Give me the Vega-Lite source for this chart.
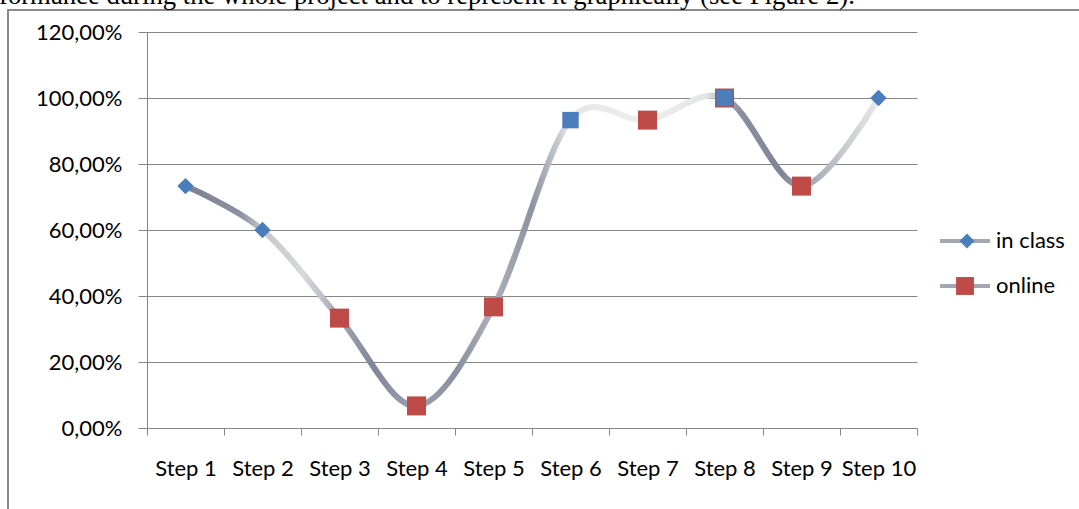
{
  "$schema": "https://vega.github.io/schema/vega-lite/v6.json",
  "width": 1071,
  "height": 499,
  "autosize": {"type": "none"},
  "padding": {"left": 8, "top": 10, "right": 0, "bottom": 0},
  "background": "white",
  "title": {
    "text": "formance during the whole project and to represent it graphically (see Figure 2).",
    "anchor": "start",
    "frame": "group",
    "dx": -9,
    "dy": 26,
    "offset": 5,
    "baseline": "alphabetic",
    "font": "Liberation Serif",
    "fontSize": 26.7,
    "fontWeight": "normal",
    "color": "#000000"
  },
  "config": {
    "locale": {"number": {"decimal": ",", "thousands": ".", "grouping": [3], "currency": ["", " €"]}},
    "view": {"stroke": "#8a8a8a", "strokeWidth": 2, "strokeDash": [1071, 1570, 499]},
    "axis": {
      "labelFont": "Lato",
      "labelFontSize": 22,
      "labelColor": "#000000",
      "domainColor": "#868686",
      "tickColor": "#868686",
      "gridColor": "#868686",
      "domainWidth": 1,
      "tickWidth": 1,
      "gridWidth": 1
    },
    "legend": {
      "orient": "none",
      "title": null,
      "padding": 0,
      "labelFont": "Lato",
      "labelFontSize": 22,
      "labelColor": "#000000"
    }
  },
  "data": {
    "values": [
      {"step": "Step 3", "value": 0.333, "mode": "online", "marker": "square"},
      {"step": "Step 4", "value": 0.067, "mode": "online", "marker": "square"},
      {"step": "Step 5", "value": 0.367, "mode": "online", "marker": "square"},
      {"step": "Step 7", "value": 0.933, "mode": "online", "marker": "square"},
      {"step": "Step 8", "value": 1.0, "mode": "online", "marker": "square"},
      {"step": "Step 9", "value": 0.733, "mode": "online", "marker": "square"},
      {"step": "Step 1", "value": 0.733, "mode": "in class", "marker": "diamond"},
      {"step": "Step 2", "value": 0.6, "mode": "in class", "marker": "diamond"},
      {"step": "Step 6", "value": 0.933, "mode": "in class", "marker": "square"},
      {"step": "Step 8", "value": 1.0, "mode": "in class", "marker": "square"},
      {"step": "Step 10", "value": 1.0, "mode": "in class", "marker": "diamond"}
    ]
  },
  "encoding": {
    "x": {
      "field": "step",
      "type": "nominal",
      "sort": ["Step 1", "Step 2", "Step 3", "Step 4", "Step 5", "Step 6", "Step 7", "Step 8", "Step 9", "Step 10"],
      "scale": {"type": "band", "range": [139, 909], "paddingInner": 0, "paddingOuter": 0},
      "axis": {
        "orient": "bottom",
        "offset": -81,
        "tickBand": "extent",
        "grid": false,
        "tickSize": 7,
        "labelPadding": 23,
        "labelAngle": 0,
        "title": null
      }
    },
    "y": {
      "field": "value",
      "type": "quantitative",
      "scale": {"domain": [0, 1.2], "range": [418, 22], "nice": false},
      "axis": {
        "values": [0, 0.2, 0.4, 0.6, 0.8, 1.0, 1.2],
        "format": ".2%",
        "offset": -139,
        "grid": true,
        "tickSize": 9,
        "labelPadding": 16,
        "title": null
      }
    }
  },
  "layer": [
    {
      "transform": [{"aggregate": [{"op": "max", "field": "value", "as": "value"}], "groupby": ["step"]}],
      "mark": {
        "type": "line",
        "interpolate": "cardinal",
        "strokeWidth": 6,
        "strokeCap": "round",
        "stroke": {
          "gradient": "linear",
          "stops": [
            {"offset": 0.0, "color": "#7a8092"},
            {"offset": 0.08, "color": "#8d92a2"},
            {"offset": 0.111, "color": "#c3c6cc"},
            {"offset": 0.17, "color": "#d8d9dc"},
            {"offset": 0.222, "color": "#a3a8b4"},
            {"offset": 0.27, "color": "#80869a"},
            {"offset": 0.333, "color": "#9ca1ae"},
            {"offset": 0.39, "color": "#8a8fa0"},
            {"offset": 0.444, "color": "#aeb2bc"},
            {"offset": 0.5, "color": "#8d92a2"},
            {"offset": 0.556, "color": "#e6e6e8"},
            {"offset": 0.667, "color": "#eeeeee"},
            {"offset": 0.75, "color": "#e4e5e7"},
            {"offset": 0.8, "color": "#8a8fa0"},
            {"offset": 0.86, "color": "#7f8597"},
            {"offset": 0.889, "color": "#9aa0ad"},
            {"offset": 0.95, "color": "#c8cad0"},
            {"offset": 1.0, "color": "#e8e8e8"}
          ]
        }
      },
      "encoding": {
        "strokeDash": {
          "field": "mode",
          "type": "nominal",
          "scale": {"domain": ["in class", "online"], "range": [[1, 0], [1, 0]]},
          "legend": {
            "legendX": 930,
            "legendY": 204,
            "zindex": 1,
            "symbolType": "stroke",
            "symbolSize": 2500,
            "symbolStrokeWidth": 4,
            "symbolStrokeColor": "#a3a7b3",
            "symbolDash": [1, 0],
            "labelExpr": "''",
            "rowPadding": 7
          }
        }
      }
    },
    {
      "transform": [{"filter": {"field": "mode", "equal": "online"}}],
      "mark": {"type": "point", "filled": true, "opacity": 1, "size": 361, "shape": "square"},
      "encoding": {
        "color": {
          "field": "mode",
          "type": "nominal",
          "scale": {"domain": ["online"], "range": ["#be4b48"]},
          "legend": {
            "legendX": 946,
            "legendY": 265,
            "zindex": 3,
            "symbolType": "square",
            "symbolSize": 320,
            "labelOffset": 20
          }
        }
      }
    },
    {
      "transform": [{"filter": {"field": "mode", "equal": "in class"}}],
      "mark": {"type": "point", "filled": true, "opacity": 1, "size": 270},
      "encoding": {
        "fill": {
          "field": "mode",
          "type": "nominal",
          "scale": {"domain": ["in class"], "range": ["#4a7ebb"]},
          "legend": {
            "legendX": 948,
            "legendY": 220,
            "zindex": 3,
            "symbolType": "diamond",
            "symbolSize": 220,
            "labelOffset": 18
          }
        },
        "shape": {
          "field": "marker",
          "type": "nominal",
          "scale": {"domain": ["diamond", "square"], "range": ["diamond", "square"]},
          "legend": null
        }
      }
    }
  ]
}
